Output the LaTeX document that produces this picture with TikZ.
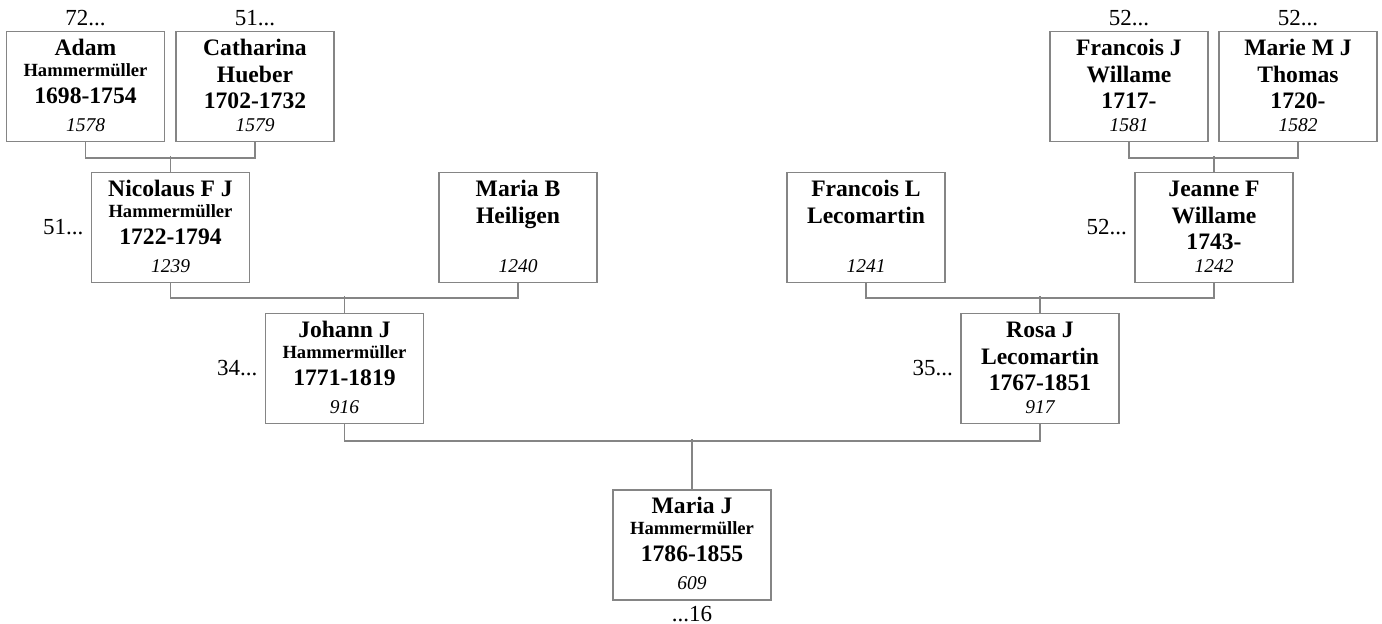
\documentclass[tikz,border=0pt]{standalone}
\usepackage{fontspec}
\setmainfont{Liberation Serif}
\usetikzlibrary{positioning}
\definecolor{LineGray}{HTML}{858585}
\newcommand{\gname}[1]{{\fontsize{11.8}{13.3}\selectfont\bfseries #1\par}}
\newcommand{\gsur}[1]{{\fontsize{9.3}{10.5}\selectfont\bfseries #1\par}}
\newcommand{\gid}[1]{\vfill{\fontsize{9.75}{11}\selectfont\itshape #1\rule[-5pt]{0pt}{5pt}\par}}
\tikzset{
  person/.style={draw=LineGray, line width=0.75pt, inner sep=0pt, fill=white,
    execute at begin node={\begin{minipage}[c][55pt][t]{79pt}\centering\leavevmode\rule{0pt}{12pt}},
    execute at end node={\end{minipage}}},
  link/.style={draw=LineGray, line width=0.75pt},
  tag/.style={inner sep=0pt, font=\fontsize{11.5}{13}\selectfont}
}
\begin{document}
\begin{tikzpicture}[x=0.5pt,y=-0.5pt]
\useasboundingbox (0,0) rectangle (1382,624);
% great-grandparents
\node[person] (adam) at (85.5,86.5) {\gname{Adam}\gsur{Hammermüller}\gname{1698-1754}\gid{1578}};
\node[person] (cath) at (255,86.5) {\gname{Catharina}\gname{Hueber}\gname{1702-1732}\gid{1579}};
\node[person] (frj) at (1129,86.5) {\gname{Francois J}\gname{Willame}\gname{1717-}\gid{1581}};
\node[person] (marie) at (1298,86.5) {\gname{Marie M J}\gname{Thomas}\gname{1720-}\gid{1582}};
% grandparents
\node[person] (nico) at (170.5,227.5) {\gname{Nicolaus F J}\gsur{Hammermüller}\gname{1722-1794}\gid{1239}};
\node[person] (mariab) at (518,227.5) {\gname{Maria B}\gname{Heiligen}\gid{1240}};
\node[person] (frl) at (866,227.5) {\gname{Francois L}\gname{Lecomartin}\gid{1241}};
\node[person] (jeanne) at (1214,227.5) {\gname{Jeanne F}\gname{Willame}\gname{1743-}\gid{1242}};
% parents
\node[person] (johann) at (344.5,368.5) {\gname{Johann J}\gsur{Hammermüller}\gname{1771-1819}\gid{916}};
\node[person] (rosa) at (1040,368.5) {\gname{Rosa J}\gname{Lecomartin}\gname{1767-1851}\gid{917}};
% root
\node[person] (mariaj) at (692,545) {\gname{Maria J}\gsur{Hammermüller}\gname{1786-1855}\gid{609}};
% continuation marks
\node[tag, above=2.5pt of adam] (adamtag) {72...};
\node[tag, above=2.5pt of cath] (cathtag) {51...};
\node[tag, above=2.5pt of frj] (frjtag) {52...};
\node[tag, above=2.5pt of marie] (marietag) {52...};
\node[tag, left=3.5pt of nico] (nicotag) {51...};
\node[tag, left=3.5pt of jeanne] (jeannetag) {52...};
\node[tag, left=3.5pt of johann] (johanntag) {34...};
\node[tag, left=3.5pt of rosa] (rosatag) {35...};
\node[tag, below=2.5pt of mariaj] (mariajtag) {...16};
% couples
\draw[link] (adam.south) -- ++(0,16) -| (cath.south) (nico.north) -- ++(0,-16);
\draw[link] (frj.south) -- ++(0,16) -| (marie.south) (jeanne.north) -- ++(0,-16);
\draw[link] (nico.south) -- ++(0,15) -| (mariab.south) (johann.north) -- ++(0,-17);
\draw[link] (frl.south) -- ++(0,15) -| (jeanne.south) (rosa.north) -- ++(0,-17);
\draw[link] (johann.south) -- ++(0,17) -| (rosa.south) (mariaj.north) -- ++(0,-50);
\end{tikzpicture}
\end{document}
